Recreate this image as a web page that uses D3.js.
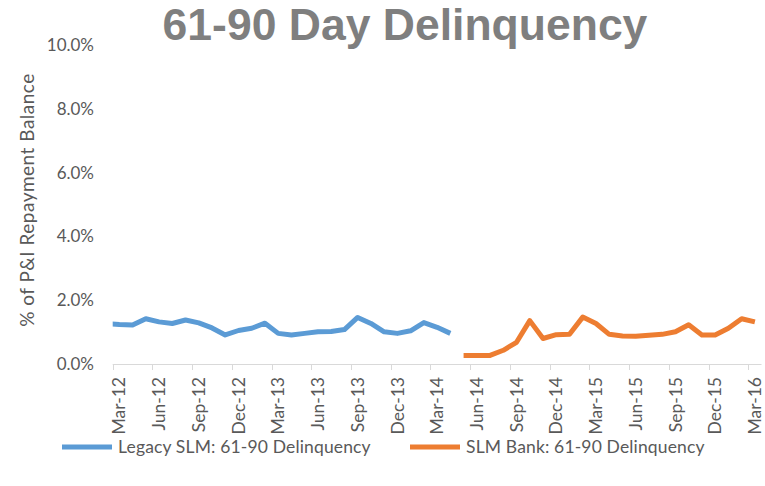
<!DOCTYPE html>
<html>
<head>
<meta charset="utf-8">
<script src="https://cdnjs.cloudflare.com/ajax/libs/d3/7.8.5/d3.min.js"></script>
<style>
  html, body { margin: 0; padding: 0; background: #ffffff; }
  svg { display: block; }
  text { font-family: Lato, "Open Sans", sans-serif; }
</style>
</head>
<body>
<svg id="chart" width="765" height="486"></svg>
<script>
// ---------- data ----------
const months = [
  "Mar-12","Apr-12","May-12","Jun-12","Jul-12","Aug-12","Sep-12","Oct-12","Nov-12","Dec-12","Jan-13","Feb-13",
  "Mar-13","Apr-13","May-13","Jun-13","Jul-13","Aug-13","Sep-13","Oct-13","Nov-13","Dec-13","Jan-14","Feb-14",
  "Mar-14","Apr-14","May-14","Jun-14","Jul-14","Aug-14","Sep-14","Oct-14","Nov-14","Dec-14","Jan-15","Feb-15",
  "Mar-15","Apr-15","May-15","Jun-15","Jul-15","Aug-15","Sep-15","Oct-15","Nov-15","Dec-15","Jan-16","Feb-16",
  "Mar-16"
];
const tickLabels = ["Mar-12","Jun-12","Sep-12","Dec-12","Mar-13","Jun-13","Sep-13","Dec-13",
  "Mar-14","Jun-14","Sep-14","Dec-14","Mar-15","Jun-15","Sep-15","Dec-15","Mar-16"];
// Legacy SLM series: first value is the (clipped) month before Mar-12, then Mar-12 .. Apr-14
const legacyStart = "Feb-12";
const legacyMonths = ["Feb-12"].concat(months.slice(0, 26));
const legacyValues = [1.27,
  1.24,1.22,1.42,1.32,1.27,1.38,1.29,1.13,0.91,1.05,1.12,1.28,
  0.96,0.91,0.96,1.01,1.02,1.08,1.46,1.27,1.01,0.96,1.04,1.30,
  1.15,0.96];
// SLM Bank series: May-14 .. Mar-16
const bankMonths = months.slice(26);
const bankValues = [0.27,0.27,0.27,0.43,0.68,1.36,0.80,0.92,0.93,1.47,
  1.27,0.93,0.88,0.87,0.90,0.93,1.01,1.23,0.91,0.91,1.12,1.42,1.32];
const yTicks = [0,2,4,6,8,10];
const seriesNames = ["Legacy SLM: 61-90 Delinquency", "SLM Bank: 61-90 Delinquency"];
const colors = ["#5B9BD5", "#ED7D31"];

// ---------- layout ----------
const plotLeft = 112.7, plotRight = 761.5, plotTop = 45, plotBottom = 364;
const svg = d3.select("#chart");
svg.append("rect").attr("width",765).attr("height",486).attr("fill","#fff");

const monthIndex = m => m === legacyStart ? -1 : months.indexOf(m);
const x = d3.scaleLinear().domain([-0.5, months.length - 0.5]).range([plotLeft, plotRight]);
const y = d3.scaleLinear().domain([0, 10]).range([plotBottom, plotTop]);

svg.append("defs").append("clipPath").attr("id","plotclip")
  .append("rect").attr("x", plotLeft).attr("y", 0).attr("width", plotRight - plotLeft + 4).attr("height", plotBottom + 10);

// title
svg.append("text").attr("x", 405).attr("y", 40).attr("text-anchor","middle")
  .style("font-family","'Liberation Sans', Arial, sans-serif").style("font-weight","bold")
  .style("font-size","44.5px").attr("fill","#7f7f7f").text("61-90 Day Delinquency");

// y axis labels
const yAxis = d3.axisLeft(y).tickValues(yTicks).tickSize(0).tickPadding(0)
  .tickFormat(d => d3.format(".1f")(d) + "%");
const gy = svg.append("g").attr("transform", `translate(94,0)`).call(yAxis);
gy.select(".domain").remove();
gy.selectAll("text").style("font-family","Lato, sans-serif").style("font-size","17px").attr("fill","#595959");

// y axis title
svg.append("text").attr("transform", `translate(34,${(73+327)/2}) rotate(-90)`)
  .attr("text-anchor","middle").style("font-size","19px").style("letter-spacing","0.5px")
  .attr("fill","#595959").text("% of P&I Repayment Balance");

// x axis line + ticks
svg.append("line").attr("x1", plotLeft).attr("x2", plotRight).attr("y1", plotBottom + 0.5).attr("y2", plotBottom + 0.5)
  .attr("stroke","#d9d9d9").attr("stroke-width",1);
const tickIdx = tickLabels.map(t => months.indexOf(t));
svg.append("g").selectAll("line").data(tickIdx).join("line")
  .attr("x1", d => Math.round(x(d - 0.5)) + 0.5).attr("x2", d => Math.round(x(d - 0.5)) + 0.5)
  .attr("y1", plotBottom).attr("y2", plotBottom + 6).attr("stroke","#d9d9d9");
svg.append("g").selectAll("text").data(tickLabels).join("text")
  .attr("transform", d => `translate(${x(months.indexOf(d))},377) rotate(-90)`)
  .attr("text-anchor","end").attr("dy","0.35em")
  .style("font-size","17.5px").attr("fill","#595959").text(d => d);

// lines
const line = d3.line().x(d => x(monthIndex(d.m))).y(d => y(d.v));
const legacy = legacyMonths.map((m,i) => ({m, v: legacyValues[i]}));
const bank = bankMonths.map((m,i) => ({m, v: bankValues[i]}));
const gl = svg.append("g").attr("clip-path","url(#plotclip)");
[legacy, bank].forEach((s, i) => {
  gl.append("path").datum(s).attr("d", line).attr("fill","none")
    .attr("stroke", colors[i]).attr("stroke-width", 5).attr("stroke-linejoin","round");
});

// legend
const legendX = [62, 410];
seriesNames.forEach((name, i) => {
  const g = svg.append("g").attr("transform", `translate(${legendX[i]},447)`);
  g.append("line").attr("x1",0).attr("x2",50).attr("y1",0).attr("y2",0)
    .attr("stroke", colors[i]).attr("stroke-width",5);
  g.append("text").attr("x",56).attr("dy","0.35em").style("font-size","17.5px")
    .style("letter-spacing","0.15px").attr("fill","#595959").text(name);
});
</script>
</body>
</html>
